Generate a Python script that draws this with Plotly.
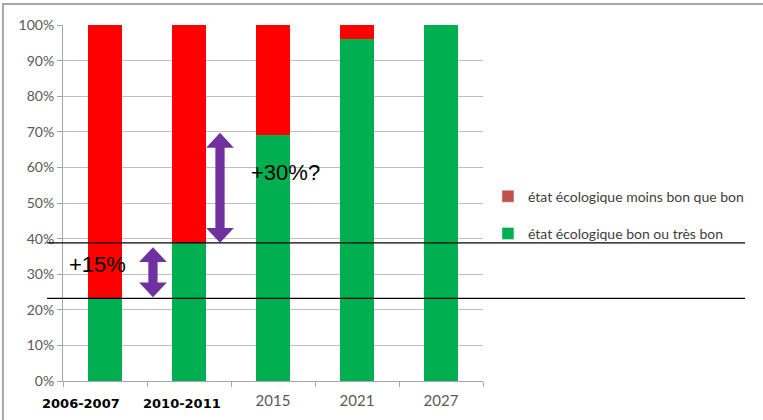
import plotly.graph_objects as go

categories = ["2006-2007", "2010-2011", "2015", "2021", "2027"]
green_vals = [23.2, 38.8, 69, 96, 100]
red_vals = [100 - g for g in green_vals]
bold_labels = ["2006-2007", "2010-2011"]
bold_label_x = [0.043, 0.283]
tick_labels = ["", "", "2015", "2021", "2027"]
legend_names = ["état écologique moins bon que bon", "état écologique bon ou très bon"]
legend_colors = ["#C0504D", "#00B050"]
y_ticks = [0, 10, 20, 30, 40, 50, 60, 70, 80, 90, 100]
y_tick_text = [f"{v}%" for v in y_ticks]

GREEN = "#00B050"
RED = "#FF0000"
PURPLE = "#7030A0"

fig = go.Figure()
fig.add_trace(go.Bar(x=categories, y=green_vals, marker_color=GREEN, width=0.4,
                     showlegend=False, marker_line_width=0))
fig.add_trace(go.Bar(x=categories, y=red_vals, marker_color=RED, width=0.4,
                     showlegend=False, marker_line_width=0))
# legend entries
for i, (nm, col) in enumerate(zip(legend_names, legend_colors)):
    fig.add_trace(go.Bar(x=[categories[0]], y=[None], name=nm, marker_color=col,
                         legendgroup=f"g{i}", showlegend=True))

n = len(categories)
def cat_paper(idx):
    return (idx + 0.5) / n

# horizontal reference lines at the green tops of the first two bars
for v in green_vals[:2]:
    fig.add_shape(type="line", xref="paper", yref="y", x0=-0.038, x1=1.624, y0=v, y1=v,
                  line=dict(color="black", width=1.3))

# double-headed arrows
def arrow_path(xc, y_lo, y_hi, hw_shaft=0.011, hw_head=0.033, hh=4.2):
    return (f"M {xc},{y_hi} L {xc+hw_head},{y_hi-hh} L {xc+hw_shaft},{y_hi-hh} "
            f"L {xc+hw_shaft},{y_lo+hh} L {xc+hw_head},{y_lo+hh} L {xc},{y_lo} "
            f"L {xc-hw_head},{y_lo+hh} L {xc-hw_shaft},{y_lo+hh} L {xc-hw_shaft},{y_hi-hh} "
            f"L {xc-hw_head},{y_hi-hh} Z")

fig.add_shape(type="path", xref="paper", yref="y",
              path=arrow_path(cat_paper(0.571), green_vals[0] + 0.3, green_vals[1] - 1.2),
              fillcolor=PURPLE, line=dict(width=0), layer="above")
fig.add_shape(type="path", xref="paper", yref="y",
              path=arrow_path(cat_paper(1.369), green_vals[1], green_vals[2] + 0.7),
              fillcolor=PURPLE, line=dict(width=0), layer="above")

fig.add_annotation(text="+15%", xref="paper", yref="y", x=0.083, y=32.6, showarrow=False,
                   xanchor="center", yanchor="middle",
                   font=dict(family="Liberation Sans", size=22, color="black"))
fig.add_annotation(text="+30%?", xref="paper", yref="y", x=0.529, y=58.7, showarrow=False,
                   xanchor="center", yanchor="middle",
                   font=dict(family="Liberation Sans", size=22, color="black"))

# bold period labels under the first two bars
for lbl, px in zip(bold_labels, bold_label_x):
    fig.add_annotation(text=f"<b>{lbl}</b>", xref="paper", yref="paper", x=px, y=-0.062,
                       showarrow=False, xanchor="center", yanchor="middle",
                       font=dict(family="DejaVu Sans", size=13, color="black"))

# outer frame of the slide chart
fig.add_shape(type="rect", xref="paper", yref="paper", x0=-0.143, x1=1.75, y0=-0.2, y1=1.059,
              line=dict(color="#A6A6A6", width=2), fillcolor="rgba(0,0,0,0)", layer="below")

fig.update_layout(
    barmode="stack",
    width=763, height=420,
    margin=dict(l=63, r=280, t=25, b=39, autoexpand=False),
    paper_bgcolor="white", plot_bgcolor="white",
    font=dict(family="Lato", size=14, color="#595959"),
    legend=dict(xref="container", yref="container", x=0.6395, y=0.570,
                xanchor="left", yanchor="top", traceorder="grouped",
                tracegroupgap=16, font=dict(family="Lato", size=14, color="#404040"),
                itemwidth=30, bgcolor="rgba(0,0,0,0)"),
    xaxis=dict(type="category", tickvals=categories, ticktext=tick_labels, tickangle=0,
               tickson="boundaries", ticks="outside", ticklen=5, tickcolor="#A6A6A6",
               showline=True, linecolor="#A6A6A6", linewidth=1, showgrid=False,
               automargin=False, ticklabelstandoff=6,
               tickfont=dict(family="Lato", size=15, color="#595959")),
    yaxis=dict(range=[0, 100], tickvals=y_ticks, ticktext=y_tick_text, ticks="outside", ticklen=5,
               tickcolor="#A6A6A6", showline=True, linecolor="#A6A6A6", linewidth=1,
               showgrid=True, gridcolor="#BFBFBF", gridwidth=1, zeroline=False,
               automargin=False,
               tickfont=dict(family="Lato", size=14, color="#595959")),
    bargap=0.6,
)

fig.write_html("out.html", config={"displayModeBar": False},
               post_script="document.body.style.margin='0';")
